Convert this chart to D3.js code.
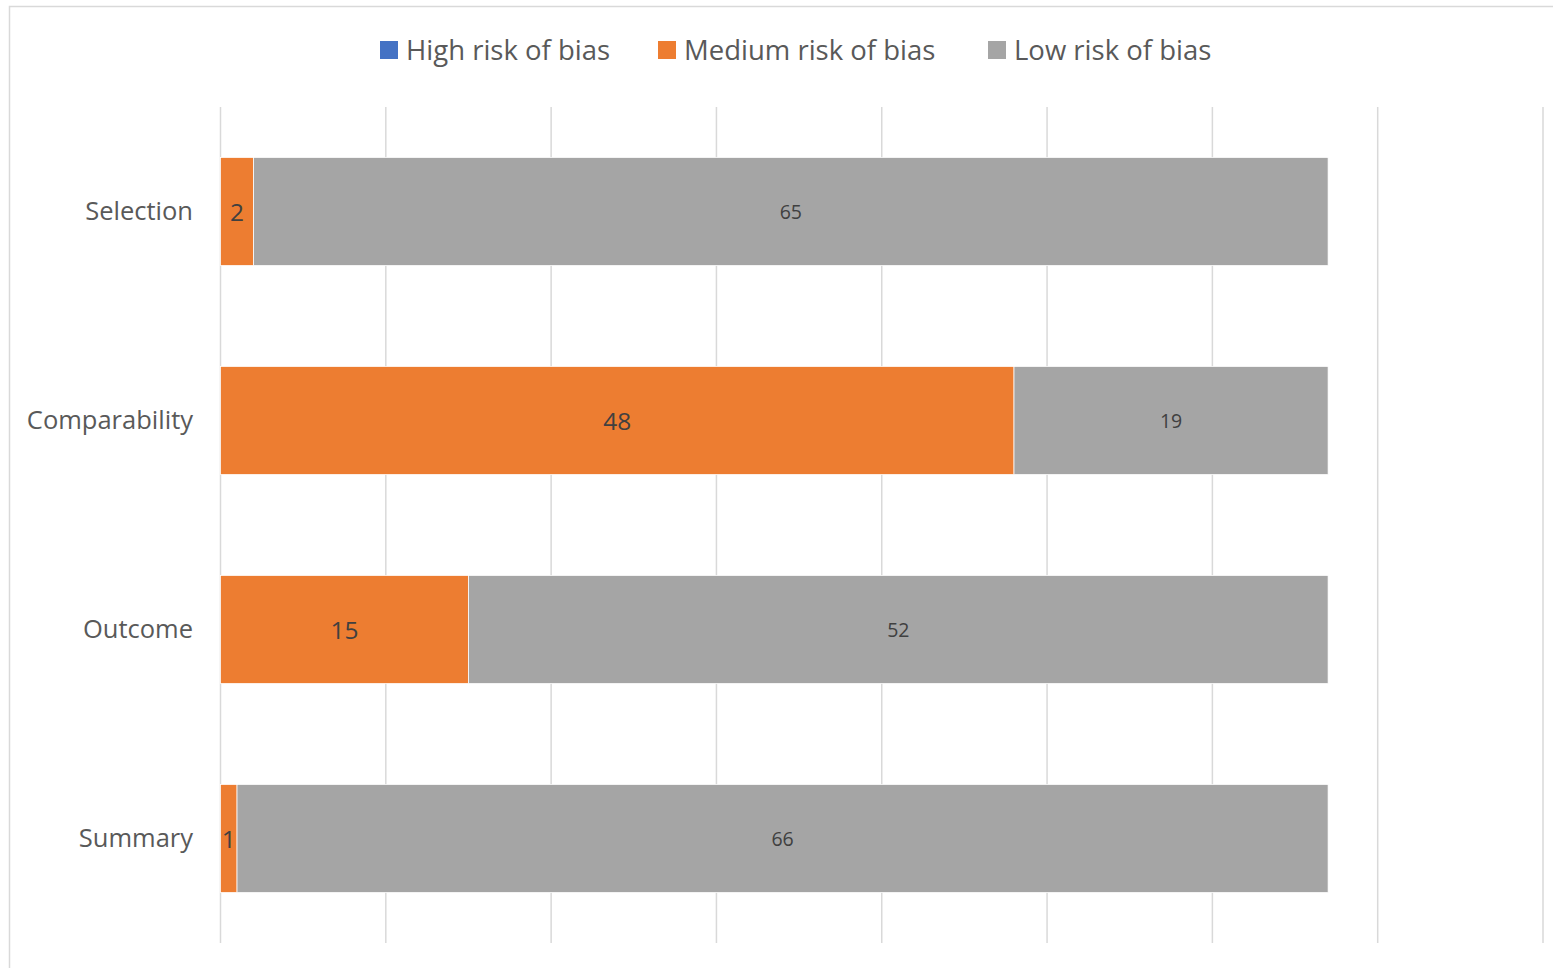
<!DOCTYPE html>
<html>
<head>
<meta charset="utf-8">
<script src="https://cdn.jsdelivr.net/npm/d3@7"></script>
<style>
  html, body { margin: 0; padding: 0; background: #fff; }
  svg { display: block; }
  text { font-family: "Open Sans", "Noto Sans", sans-serif; }
</style>
</head>
<body>
<svg id="chart" width="1553" height="968"></svg>
<script>
// Risk-of-bias assessment by domain (number of studies)
const categories = ["Selection", "Comparability", "Outcome", "Summary"];
const seriesNames = ["High risk of bias", "Medium risk of bias", "Low risk of bias"];
const highRisk = [0, 0, 0, 0];
const mediumRisk = [2, 48, 15, 1];
const lowRisk = [65, 19, 52, 66];
const xTicks = [0, 10, 20, 30, 40, 50, 60, 70, 80];
const colors = ["#4472C4", "#ED7D31", "#A5A5A5"];

const svg = d3.select("#chart");
const W = 1553, H = 968;

// chart frame
svg.append("rect")
  .attr("x", 9.5).attr("y", 6.5)
  .attr("width", W + 20).attr("height", H + 20)
  .attr("fill", "#fff").attr("stroke", "#d9d9d9").attr("stroke-width", 1.5);

const plot = { left: 220.5, right: 1543, top: 107, bottom: 943 };

const x = d3.scaleLinear().domain([0, 80]).range([plot.left, plot.right]);
const y = d3.scaleBand().domain(categories)
  .range([plot.top, plot.bottom])
  .paddingInner(0.483).paddingOuter(0.2415);

// vertical gridlines
svg.append("g").selectAll("line").data(xTicks).join("line")
  .attr("x1", d => x(d)).attr("x2", d => x(d))
  .attr("y1", plot.top).attr("y2", plot.bottom)
  .attr("stroke", "#d9d9d9").attr("stroke-width", 1.5);

// stack the series
const rows = categories.map((c, i) => ({
  cat: c,
  [seriesNames[0]]: highRisk[i],
  [seriesNames[1]]: mediumRisk[i],
  [seriesNames[2]]: lowRisk[i]
}));
const stacked = d3.stack().keys(seriesNames)(rows);

const layers = svg.append("g").selectAll("g").data(stacked).join("g")
  .attr("fill", (d, i) => colors[i]);

layers.selectAll("rect").data(d => d).join("rect")
  .attr("x", d => x(d[0]))
  .attr("y", d => y(d.data.cat))
  .attr("width", d => Math.max(0, x(d[1]) - x(d[0])))
  .attr("height", y.bandwidth())
  .attr("stroke", "#fff").attr("stroke-width", 0.75);

// value labels (medium in larger type, low in smaller type)
const labelSizes = [24.5, 24.5, 19.5];
stacked.forEach((layer, si) => {
  svg.append("g").selectAll("text")
    .data(layer.filter(d => d[1] - d[0] > 0))
    .join("text")
    .attr("x", d => (x(d[0]) + x(d[1])) / 2)
    .attr("y", d => y(d.data.cat) + y.bandwidth() / 2)
    .attr("text-anchor", "middle")
    .attr("dominant-baseline", "central")
    .attr("font-size", labelSizes[si])
    .attr("fill", "#404040")
    .text(d => d[1] - d[0]);
});

// category axis labels
svg.append("g").selectAll("text").data(categories).join("text")
  .attr("x", 193)
  .attr("y", d => y(d) + y.bandwidth() / 2 - 1.5)
  .attr("text-anchor", "end")
  .attr("dominant-baseline", "central")
  .attr("font-size", 25.5)
  .attr("fill", "#595959")
  .text(d => d);

// legend
const legendX = [380, 658, 988];
const legend = svg.append("g").selectAll("g").data(seriesNames).join("g")
  .attr("transform", (d, i) => `translate(${legendX[i]},41)`);
legend.append("rect").attr("width", 18).attr("height", 18)
  .attr("fill", (d, i) => colors[i]);
legend.append("text")
  .attr("x", 26).attr("y", 8)
  .attr("dominant-baseline", "central")
  .attr("font-size", 27.5)
  .attr("fill", "#595959")
  .text(d => d);
</script>
</body>
</html>
